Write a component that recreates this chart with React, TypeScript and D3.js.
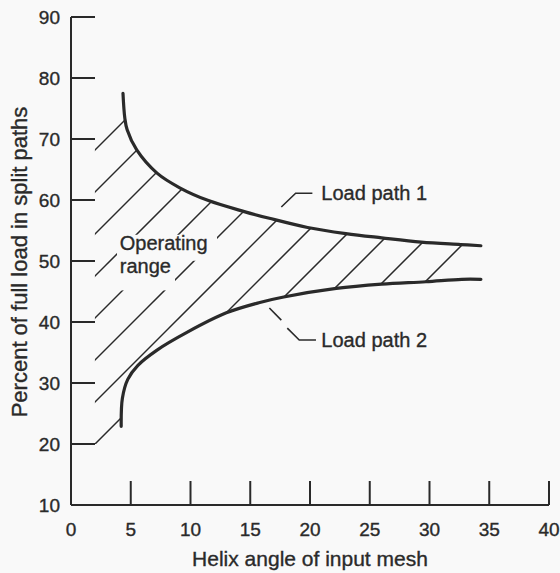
import React from 'react';
import * as d3 from 'd3';

// Helix angle (deg) vs percent of full load
const upperPath: [number, number][] = [
  [4.35, 77.5], [4.5, 73.5], [4.7, 71.5], [5.5, 68.2], [7.2, 64.4], [9.1, 62.0],
  [11.5, 59.9], [14.5, 58.1], [16.6, 57.0], [19.8, 55.5], [23, 54.5], [26, 53.8],
  [29.3, 53.1], [32.6, 52.7], [34.3, 52.5],
];
const lowerPath: [number, number][] = [
  [4.2, 22.9], [4.3, 27.5], [4.75, 30.6], [5.6, 32.9], [7.2, 35.4], [9.7, 38.3],
  [13, 41.5], [15.8, 43.2], [17.8, 44.1], [22.2, 45.5], [26, 46.2], [29.7, 46.6],
  [32.7, 47.0], [34.3, 47.0],
];
const xTicks = [0, 5, 10, 15, 20, 25, 30, 35, 40];
const yTicks = [10, 20, 30, 40, 50, 60, 70, 80, 90];

// left edge of the shaded range and its bottom
const rangeLeft = 2;
const rangeBottom = 20;
const rangeTop = 85;

const W = 560, H = 573;
const INK = '#2a2a2a';
const BG = '#f9f9f9';
const FONT = '"Liberation Sans", Arial, Helvetica, sans-serif';

const x = d3.scaleLinear().domain([0, 40]).range([71, 549]);
const y = d3.scaleLinear().domain([10, 90]).range([505, 17]);

const App: React.FC = () => {
  const line = d3.line<[number, number]>()
    .x((d) => x(d[0]))
    .y((d) => y(d[1]))
    .curve(d3.curveCatmullRom.alpha(0.5));

  const upperD = line(upperPath) || '';
  const lowerD = line(lowerPath) || '';
  const lowerRev = line([...lowerPath].reverse()) || '';

  const first = upperPath[0];
  const firstLow = lowerPath[0];
  const clipD =
    `M${x(rangeLeft)},${y(rangeBottom)}L${x(rangeLeft)},${y(rangeTop)}` +
    `L${x(first[0])},${y(rangeTop)}` +
    upperD.replace(/^M/, 'L') +
    lowerRev.replace(/^M/, 'L') +
    `L${x(firstLow[0])},${y(rangeBottom)}Z`;

  // 45 degree hatching, lines x + y = c in screen space
  const hatch = d3.range(245, 710, 42);

  return (
    <svg width={W} height={H} style={{ position: 'absolute', left: 0, top: 0, background: BG }}
         fontFamily={FONT}>
      <rect width={W} height={H} fill={BG} />
      <defs>
        <clipPath id="range">
          <path d={clipD} />
        </clipPath>
      </defs>

      {/* hatching */}
      <g clipPath="url(#range)" stroke={INK} strokeWidth={1.5}>
        {hatch.map((c) => (
          <line key={c} x1={c - 600} y1={600} x2={c} y2={0} />
        ))}
      </g>

      {/* knockout behind the range label */}
      <rect x={x(3.85)} y={y(54.3)} width={100} height={26} fill={BG} />
      <rect x={x(3.85)} y={y(50.1)} width={58} height={30} fill={BG} />
      <g fontSize={20} fill={INK} stroke={INK} strokeWidth={0.35}>
        <text x={x(4.08)} y={y(51.8)}>Operating</text>
        <text x={x(4.08)} y={y(48.0)}>range</text>
      </g>

      {/* load curves */}
      <path d={upperD} fill="none" stroke={INK} strokeWidth={3.2} strokeLinecap="round" />
      <path d={lowerD} fill="none" stroke={INK} strokeWidth={3.2} strokeLinecap="round" />

      {/* axes */}
      <g stroke={INK} strokeWidth={2} fill="none">
        <line x1={x(0)} y1={y(90)} x2={x(0)} y2={y(10)} />
        <line x1={x(0)} y1={y(10)} x2={x(40)} y2={y(10)} />
        {yTicks.filter((t) => t > 10).map((t) => (
          <line key={t} x1={x(0)} y1={y(t)} x2={x(0) + 24} y2={y(t)} />
        ))}
        {xTicks.filter((t) => t > 0).map((t) => (
          <line key={t} x1={x(t)} y1={y(10)} x2={x(t)} y2={y(10) - 24} />
        ))}
      </g>
      <g fontSize={19} fill={INK} stroke={INK} strokeWidth={0.35}>
        {yTicks.map((t) => (
          <text key={t} x={x(0) - 11} y={y(t) + 6.8} textAnchor="end">{t}</text>
        ))}
        {xTicks.map((t) => (
          <text key={t} x={x(t)} y={y(10) + 31} textAnchor="middle">{t}</text>
        ))}
      </g>

      {/* leaders */}
      <g stroke={INK} strokeWidth={1.6} fill="none">
        <path d={`M${x(17.6)},${y(58.85)}L${x(18.8)},${y(61.1)}L${x(20.2)},${y(61.1)}`} />
        <path d={`M${x(16.6)},${y(42.3)}L${x(17.6)},${y(40.3)}`} />
        <path d={`M${x(18.1)},${y(39.0)}L${x(19.1)},${y(37.05)}L${x(20.5)},${y(37.05)}`} />
      </g>
      <g fontSize={20} fill={INK} stroke={INK} strokeWidth={0.35}>
        <text x={x(20.95)} y={y(61.1) + 7}>Load path 1</text>
        <text x={x(20.95)} y={y(37.05) + 7}>Load path 2</text>
      </g>

      {/* titles */}
      <g fill={INK} stroke={INK} strokeWidth={0.35}>
        <text x={310} y={566} fontSize={21} textAnchor="middle">Helix angle of input mesh</text>
        <text transform="translate(27,262) rotate(-90)" fontSize={22} textAnchor="middle">
          Percent of full load in split paths
        </text>
      </g>
    </svg>
  );
};

export default App;
